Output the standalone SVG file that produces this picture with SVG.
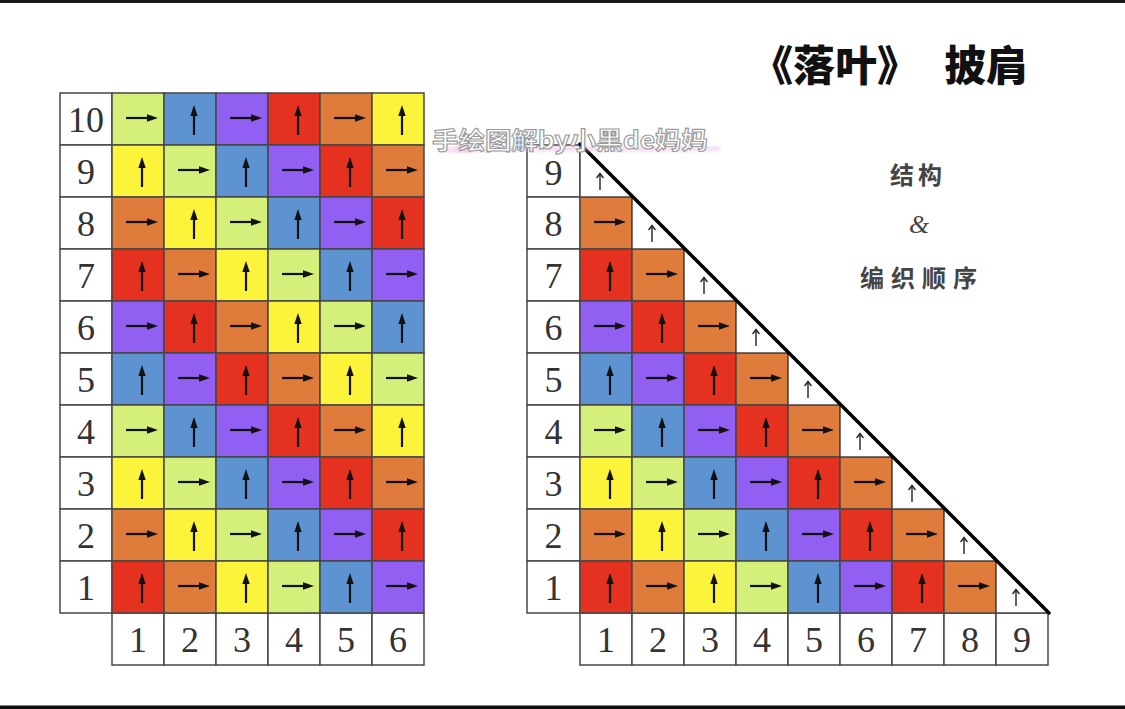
<svg xmlns="http://www.w3.org/2000/svg" xmlns:xlink="http://www.w3.org/1999/xlink" width="1125" height="709" viewBox="0 0 1125 709">
<style>
.cell{stroke:#474747;stroke-width:1.5}
.w{fill:#ffffff}
.r{fill:#e5311f}
.o{fill:#df7c3b}
.y{fill:#fbf43a}
.g{fill:#d4f07b}
.b{fill:#5d93d1}
.p{fill:#915ff1}
.num{font-family:"Liberation Serif","Times New Roman",serif;font-size:36px;fill:#333;text-anchor:middle}
.tri{fill:#ffffff}
.triEdge{fill:none;stroke:#474747;stroke-width:1.5}
.cap{font-family:"Noto Sans CJK SC","Noto Sans CJK TC",sans-serif;fill:#444}
</style>
<defs>
<g id="up">
<line x1="30" y1="42" x2="30" y2="21" stroke="#111" stroke-width="2.2"/>
<polygon points="30,12 26.3,23 33.7,23" fill="#111"/>
</g>
<g id="rt">
<line x1="14" y1="25" x2="37" y2="25" stroke="#111" stroke-width="2.2"/>
<polygon points="46,25 35,21.3 35,28.7" fill="#111"/>
</g>
<g id="sup">
<line x1="20" y1="45" x2="20" y2="29" stroke="#222" stroke-width="1.4"/>
<path d="M16.6,33 L20,28.5 L23.4,33" fill="none" stroke="#222" stroke-width="1.4"/>
</g>
<filter id="soft" x="-10%" y="-50%" width="120%" height="200%">
<feGaussianBlur stdDeviation="2"/>
</filter>
</defs>
<rect width="1125" height="709" fill="#ffffff"/>
<rect x="0" y="0" width="1125" height="3" fill="#1a1a1a"/>
<rect x="0" y="705.5" width="1125" height="3.5" fill="#111"/>

<!-- LEFT GRID -->
<g id="left-grid">
<g id="L-rowlabels">
<rect class="cell w" x="60" y="93" width="52" height="52"/><text class="num" x="86" y="132">10</text>
<rect class="cell w" x="60" y="145" width="52" height="52"/><text class="num" x="86" y="184">9</text>
<rect class="cell w" x="60" y="197" width="52" height="52"/><text class="num" x="86" y="236">8</text>
<rect class="cell w" x="60" y="249" width="52" height="52"/><text class="num" x="86" y="288">7</text>
<rect class="cell w" x="60" y="301" width="52" height="52"/><text class="num" x="86" y="340">6</text>
<rect class="cell w" x="60" y="353" width="52" height="52"/><text class="num" x="86" y="392">5</text>
<rect class="cell w" x="60" y="405" width="52" height="52"/><text class="num" x="86" y="444">4</text>
<rect class="cell w" x="60" y="457" width="52" height="52"/><text class="num" x="86" y="496">3</text>
<rect class="cell w" x="60" y="509" width="52" height="52"/><text class="num" x="86" y="548">2</text>
<rect class="cell w" x="60" y="561" width="52" height="52"/><text class="num" x="86" y="600">1</text>
</g>
<g id="L-collabels">
<rect class="cell w" x="112" y="613" width="52" height="52"/><text class="num" x="138" y="652">1</text>
<rect class="cell w" x="164" y="613" width="52" height="52"/><text class="num" x="190" y="652">2</text>
<rect class="cell w" x="216" y="613" width="52" height="52"/><text class="num" x="242" y="652">3</text>
<rect class="cell w" x="268" y="613" width="52" height="52"/><text class="num" x="294" y="652">4</text>
<rect class="cell w" x="320" y="613" width="52" height="52"/><text class="num" x="346" y="652">5</text>
<rect class="cell w" x="372" y="613" width="52" height="52"/><text class="num" x="398" y="652">6</text>
</g>
<!-- row 10 -->
<g id="L-10-1"><rect class="cell g" x="112" y="93" width="52" height="52"/><use xlink:href="#rt" x="112" y="93"/></g>
<g id="L-10-2"><rect class="cell b" x="164" y="93" width="52" height="52"/><use xlink:href="#up" x="164" y="93"/></g>
<g id="L-10-3"><rect class="cell p" x="216" y="93" width="52" height="52"/><use xlink:href="#rt" x="216" y="93"/></g>
<g id="L-10-4"><rect class="cell r" x="268" y="93" width="52" height="52"/><use xlink:href="#up" x="268" y="93"/></g>
<g id="L-10-5"><rect class="cell o" x="320" y="93" width="52" height="52"/><use xlink:href="#rt" x="320" y="93"/></g>
<g id="L-10-6"><rect class="cell y" x="372" y="93" width="52" height="52"/><use xlink:href="#up" x="372" y="93"/></g>
<!-- row 9 -->
<g id="L-9-1"><rect class="cell y" x="112" y="145" width="52" height="52"/><use xlink:href="#up" x="112" y="145"/></g>
<g id="L-9-2"><rect class="cell g" x="164" y="145" width="52" height="52"/><use xlink:href="#rt" x="164" y="145"/></g>
<g id="L-9-3"><rect class="cell b" x="216" y="145" width="52" height="52"/><use xlink:href="#up" x="216" y="145"/></g>
<g id="L-9-4"><rect class="cell p" x="268" y="145" width="52" height="52"/><use xlink:href="#rt" x="268" y="145"/></g>
<g id="L-9-5"><rect class="cell r" x="320" y="145" width="52" height="52"/><use xlink:href="#up" x="320" y="145"/></g>
<g id="L-9-6"><rect class="cell o" x="372" y="145" width="52" height="52"/><use xlink:href="#rt" x="372" y="145"/></g>
<!-- row 8 -->
<g id="L-8-1"><rect class="cell o" x="112" y="197" width="52" height="52"/><use xlink:href="#rt" x="112" y="197"/></g>
<g id="L-8-2"><rect class="cell y" x="164" y="197" width="52" height="52"/><use xlink:href="#up" x="164" y="197"/></g>
<g id="L-8-3"><rect class="cell g" x="216" y="197" width="52" height="52"/><use xlink:href="#rt" x="216" y="197"/></g>
<g id="L-8-4"><rect class="cell b" x="268" y="197" width="52" height="52"/><use xlink:href="#up" x="268" y="197"/></g>
<g id="L-8-5"><rect class="cell p" x="320" y="197" width="52" height="52"/><use xlink:href="#rt" x="320" y="197"/></g>
<g id="L-8-6"><rect class="cell r" x="372" y="197" width="52" height="52"/><use xlink:href="#up" x="372" y="197"/></g>
<!-- row 7 -->
<g id="L-7-1"><rect class="cell r" x="112" y="249" width="52" height="52"/><use xlink:href="#up" x="112" y="249"/></g>
<g id="L-7-2"><rect class="cell o" x="164" y="249" width="52" height="52"/><use xlink:href="#rt" x="164" y="249"/></g>
<g id="L-7-3"><rect class="cell y" x="216" y="249" width="52" height="52"/><use xlink:href="#up" x="216" y="249"/></g>
<g id="L-7-4"><rect class="cell g" x="268" y="249" width="52" height="52"/><use xlink:href="#rt" x="268" y="249"/></g>
<g id="L-7-5"><rect class="cell b" x="320" y="249" width="52" height="52"/><use xlink:href="#up" x="320" y="249"/></g>
<g id="L-7-6"><rect class="cell p" x="372" y="249" width="52" height="52"/><use xlink:href="#rt" x="372" y="249"/></g>
<!-- row 6 -->
<g id="L-6-1"><rect class="cell p" x="112" y="301" width="52" height="52"/><use xlink:href="#rt" x="112" y="301"/></g>
<g id="L-6-2"><rect class="cell r" x="164" y="301" width="52" height="52"/><use xlink:href="#up" x="164" y="301"/></g>
<g id="L-6-3"><rect class="cell o" x="216" y="301" width="52" height="52"/><use xlink:href="#rt" x="216" y="301"/></g>
<g id="L-6-4"><rect class="cell y" x="268" y="301" width="52" height="52"/><use xlink:href="#up" x="268" y="301"/></g>
<g id="L-6-5"><rect class="cell g" x="320" y="301" width="52" height="52"/><use xlink:href="#rt" x="320" y="301"/></g>
<g id="L-6-6"><rect class="cell b" x="372" y="301" width="52" height="52"/><use xlink:href="#up" x="372" y="301"/></g>
<!-- row 5 -->
<g id="L-5-1"><rect class="cell b" x="112" y="353" width="52" height="52"/><use xlink:href="#up" x="112" y="353"/></g>
<g id="L-5-2"><rect class="cell p" x="164" y="353" width="52" height="52"/><use xlink:href="#rt" x="164" y="353"/></g>
<g id="L-5-3"><rect class="cell r" x="216" y="353" width="52" height="52"/><use xlink:href="#up" x="216" y="353"/></g>
<g id="L-5-4"><rect class="cell o" x="268" y="353" width="52" height="52"/><use xlink:href="#rt" x="268" y="353"/></g>
<g id="L-5-5"><rect class="cell y" x="320" y="353" width="52" height="52"/><use xlink:href="#up" x="320" y="353"/></g>
<g id="L-5-6"><rect class="cell g" x="372" y="353" width="52" height="52"/><use xlink:href="#rt" x="372" y="353"/></g>
<!-- row 4 -->
<g id="L-4-1"><rect class="cell g" x="112" y="405" width="52" height="52"/><use xlink:href="#rt" x="112" y="405"/></g>
<g id="L-4-2"><rect class="cell b" x="164" y="405" width="52" height="52"/><use xlink:href="#up" x="164" y="405"/></g>
<g id="L-4-3"><rect class="cell p" x="216" y="405" width="52" height="52"/><use xlink:href="#rt" x="216" y="405"/></g>
<g id="L-4-4"><rect class="cell r" x="268" y="405" width="52" height="52"/><use xlink:href="#up" x="268" y="405"/></g>
<g id="L-4-5"><rect class="cell o" x="320" y="405" width="52" height="52"/><use xlink:href="#rt" x="320" y="405"/></g>
<g id="L-4-6"><rect class="cell y" x="372" y="405" width="52" height="52"/><use xlink:href="#up" x="372" y="405"/></g>
<!-- row 3 -->
<g id="L-3-1"><rect class="cell y" x="112" y="457" width="52" height="52"/><use xlink:href="#up" x="112" y="457"/></g>
<g id="L-3-2"><rect class="cell g" x="164" y="457" width="52" height="52"/><use xlink:href="#rt" x="164" y="457"/></g>
<g id="L-3-3"><rect class="cell b" x="216" y="457" width="52" height="52"/><use xlink:href="#up" x="216" y="457"/></g>
<g id="L-3-4"><rect class="cell p" x="268" y="457" width="52" height="52"/><use xlink:href="#rt" x="268" y="457"/></g>
<g id="L-3-5"><rect class="cell r" x="320" y="457" width="52" height="52"/><use xlink:href="#up" x="320" y="457"/></g>
<g id="L-3-6"><rect class="cell o" x="372" y="457" width="52" height="52"/><use xlink:href="#rt" x="372" y="457"/></g>
<!-- row 2 -->
<g id="L-2-1"><rect class="cell o" x="112" y="509" width="52" height="52"/><use xlink:href="#rt" x="112" y="509"/></g>
<g id="L-2-2"><rect class="cell y" x="164" y="509" width="52" height="52"/><use xlink:href="#up" x="164" y="509"/></g>
<g id="L-2-3"><rect class="cell g" x="216" y="509" width="52" height="52"/><use xlink:href="#rt" x="216" y="509"/></g>
<g id="L-2-4"><rect class="cell b" x="268" y="509" width="52" height="52"/><use xlink:href="#up" x="268" y="509"/></g>
<g id="L-2-5"><rect class="cell p" x="320" y="509" width="52" height="52"/><use xlink:href="#rt" x="320" y="509"/></g>
<g id="L-2-6"><rect class="cell r" x="372" y="509" width="52" height="52"/><use xlink:href="#up" x="372" y="509"/></g>
<!-- row 1 -->
<g id="L-1-1"><rect class="cell r" x="112" y="561" width="52" height="52"/><use xlink:href="#up" x="112" y="561"/></g>
<g id="L-1-2"><rect class="cell o" x="164" y="561" width="52" height="52"/><use xlink:href="#rt" x="164" y="561"/></g>
<g id="L-1-3"><rect class="cell y" x="216" y="561" width="52" height="52"/><use xlink:href="#up" x="216" y="561"/></g>
<g id="L-1-4"><rect class="cell g" x="268" y="561" width="52" height="52"/><use xlink:href="#rt" x="268" y="561"/></g>
<g id="L-1-5"><rect class="cell b" x="320" y="561" width="52" height="52"/><use xlink:href="#up" x="320" y="561"/></g>
<g id="L-1-6"><rect class="cell p" x="372" y="561" width="52" height="52"/><use xlink:href="#rt" x="372" y="561"/></g>
</g>

<!-- RIGHT GRID -->
<g id="right-grid">
<g id="R-rowlabels">
<rect class="cell w" x="527" y="145" width="53" height="52"/><text class="num" x="553.5" y="185">9</text>
<rect class="cell w" x="527" y="197" width="53" height="52"/><text class="num" x="553.5" y="236">8</text>
<rect class="cell w" x="527" y="249" width="53" height="52"/><text class="num" x="553.5" y="288">7</text>
<rect class="cell w" x="527" y="301" width="53" height="52"/><text class="num" x="553.5" y="340">6</text>
<rect class="cell w" x="527" y="353" width="53" height="52"/><text class="num" x="553.5" y="392">5</text>
<rect class="cell w" x="527" y="405" width="53" height="52"/><text class="num" x="553.5" y="444">4</text>
<rect class="cell w" x="527" y="457" width="53" height="52"/><text class="num" x="553.5" y="496">3</text>
<rect class="cell w" x="527" y="509" width="53" height="52"/><text class="num" x="553.5" y="548">2</text>
<rect class="cell w" x="527" y="561" width="53" height="52"/><text class="num" x="553.5" y="600">1</text>
</g>
<g id="R-collabels">
<rect class="cell w" x="580" y="613" width="52" height="52"/><text class="num" x="606" y="652">1</text>
<rect class="cell w" x="632" y="613" width="52" height="52"/><text class="num" x="658" y="652">2</text>
<rect class="cell w" x="684" y="613" width="52" height="52"/><text class="num" x="710" y="652">3</text>
<rect class="cell w" x="736" y="613" width="52" height="52"/><text class="num" x="762" y="652">4</text>
<rect class="cell w" x="788" y="613" width="52" height="52"/><text class="num" x="814" y="652">5</text>
<rect class="cell w" x="840" y="613" width="52" height="52"/><text class="num" x="866" y="652">6</text>
<rect class="cell w" x="892" y="613" width="52" height="52"/><text class="num" x="918" y="652">7</text>
<rect class="cell w" x="944" y="613" width="52" height="52"/><text class="num" x="970" y="652">8</text>
<rect class="cell w" x="996" y="613" width="52" height="52"/><text class="num" x="1022" y="652">9</text>
</g>
<!-- row 8 -->
<g id="R-8-1"><rect class="cell o" x="580" y="197" width="52" height="52"/><use xlink:href="#rt" x="580" y="197"/></g>
<!-- row 7 -->
<g id="R-7-1"><rect class="cell r" x="580" y="249" width="52" height="52"/><use xlink:href="#up" x="580" y="249"/></g>
<g id="R-7-2"><rect class="cell o" x="632" y="249" width="52" height="52"/><use xlink:href="#rt" x="632" y="249"/></g>
<!-- row 6 -->
<g id="R-6-1"><rect class="cell p" x="580" y="301" width="52" height="52"/><use xlink:href="#rt" x="580" y="301"/></g>
<g id="R-6-2"><rect class="cell r" x="632" y="301" width="52" height="52"/><use xlink:href="#up" x="632" y="301"/></g>
<g id="R-6-3"><rect class="cell o" x="684" y="301" width="52" height="52"/><use xlink:href="#rt" x="684" y="301"/></g>
<!-- row 5 -->
<g id="R-5-1"><rect class="cell b" x="580" y="353" width="52" height="52"/><use xlink:href="#up" x="580" y="353"/></g>
<g id="R-5-2"><rect class="cell p" x="632" y="353" width="52" height="52"/><use xlink:href="#rt" x="632" y="353"/></g>
<g id="R-5-3"><rect class="cell r" x="684" y="353" width="52" height="52"/><use xlink:href="#up" x="684" y="353"/></g>
<g id="R-5-4"><rect class="cell o" x="736" y="353" width="52" height="52"/><use xlink:href="#rt" x="736" y="353"/></g>
<!-- row 4 -->
<g id="R-4-1"><rect class="cell g" x="580" y="405" width="52" height="52"/><use xlink:href="#rt" x="580" y="405"/></g>
<g id="R-4-2"><rect class="cell b" x="632" y="405" width="52" height="52"/><use xlink:href="#up" x="632" y="405"/></g>
<g id="R-4-3"><rect class="cell p" x="684" y="405" width="52" height="52"/><use xlink:href="#rt" x="684" y="405"/></g>
<g id="R-4-4"><rect class="cell r" x="736" y="405" width="52" height="52"/><use xlink:href="#up" x="736" y="405"/></g>
<g id="R-4-5"><rect class="cell o" x="788" y="405" width="52" height="52"/><use xlink:href="#rt" x="788" y="405"/></g>
<!-- row 3 -->
<g id="R-3-1"><rect class="cell y" x="580" y="457" width="52" height="52"/><use xlink:href="#up" x="580" y="457"/></g>
<g id="R-3-2"><rect class="cell g" x="632" y="457" width="52" height="52"/><use xlink:href="#rt" x="632" y="457"/></g>
<g id="R-3-3"><rect class="cell b" x="684" y="457" width="52" height="52"/><use xlink:href="#up" x="684" y="457"/></g>
<g id="R-3-4"><rect class="cell p" x="736" y="457" width="52" height="52"/><use xlink:href="#rt" x="736" y="457"/></g>
<g id="R-3-5"><rect class="cell r" x="788" y="457" width="52" height="52"/><use xlink:href="#up" x="788" y="457"/></g>
<g id="R-3-6"><rect class="cell o" x="840" y="457" width="52" height="52"/><use xlink:href="#rt" x="840" y="457"/></g>
<!-- row 2 -->
<g id="R-2-1"><rect class="cell o" x="580" y="509" width="52" height="52"/><use xlink:href="#rt" x="580" y="509"/></g>
<g id="R-2-2"><rect class="cell y" x="632" y="509" width="52" height="52"/><use xlink:href="#up" x="632" y="509"/></g>
<g id="R-2-3"><rect class="cell g" x="684" y="509" width="52" height="52"/><use xlink:href="#rt" x="684" y="509"/></g>
<g id="R-2-4"><rect class="cell b" x="736" y="509" width="52" height="52"/><use xlink:href="#up" x="736" y="509"/></g>
<g id="R-2-5"><rect class="cell p" x="788" y="509" width="52" height="52"/><use xlink:href="#rt" x="788" y="509"/></g>
<g id="R-2-6"><rect class="cell r" x="840" y="509" width="52" height="52"/><use xlink:href="#up" x="840" y="509"/></g>
<g id="R-2-7"><rect class="cell o" x="892" y="509" width="52" height="52"/><use xlink:href="#rt" x="892" y="509"/></g>
<!-- row 1 -->
<g id="R-1-1"><rect class="cell r" x="580" y="561" width="52" height="52"/><use xlink:href="#up" x="580" y="561"/></g>
<g id="R-1-2"><rect class="cell o" x="632" y="561" width="52" height="52"/><use xlink:href="#rt" x="632" y="561"/></g>
<g id="R-1-3"><rect class="cell y" x="684" y="561" width="52" height="52"/><use xlink:href="#up" x="684" y="561"/></g>
<g id="R-1-4"><rect class="cell g" x="736" y="561" width="52" height="52"/><use xlink:href="#rt" x="736" y="561"/></g>
<g id="R-1-5"><rect class="cell b" x="788" y="561" width="52" height="52"/><use xlink:href="#up" x="788" y="561"/></g>
<g id="R-1-6"><rect class="cell p" x="840" y="561" width="52" height="52"/><use xlink:href="#rt" x="840" y="561"/></g>
<g id="R-1-7"><rect class="cell r" x="892" y="561" width="52" height="52"/><use xlink:href="#up" x="892" y="561"/></g>
<g id="R-1-8"><rect class="cell o" x="944" y="561" width="52" height="52"/><use xlink:href="#rt" x="944" y="561"/></g>
<!-- diagonal white half-cells -->
<g id="R-9-1"><polygon class="tri" points="580,145 580,197 632,197"/><path class="triEdge" d="M580,145 V197 H632"/><use xlink:href="#sup" x="580" y="145"/></g>
<g id="R-8-2"><polygon class="tri" points="632,197 632,249 684,249"/><path class="triEdge" d="M632,197 V249 H684"/><use xlink:href="#sup" x="632" y="197"/></g>
<g id="R-7-3"><polygon class="tri" points="684,249 684,301 736,301"/><path class="triEdge" d="M684,249 V301 H736"/><use xlink:href="#sup" x="684" y="249"/></g>
<g id="R-6-4"><polygon class="tri" points="736,301 736,353 788,353"/><path class="triEdge" d="M736,301 V353 H788"/><use xlink:href="#sup" x="736" y="301"/></g>
<g id="R-5-5"><polygon class="tri" points="788,353 788,405 840,405"/><path class="triEdge" d="M788,353 V405 H840"/><use xlink:href="#sup" x="788" y="353"/></g>
<g id="R-4-6"><polygon class="tri" points="840,405 840,457 892,457"/><path class="triEdge" d="M840,405 V457 H892"/><use xlink:href="#sup" x="840" y="405"/></g>
<g id="R-3-7"><polygon class="tri" points="892,457 892,509 944,509"/><path class="triEdge" d="M892,457 V509 H944"/><use xlink:href="#sup" x="892" y="457"/></g>
<g id="R-2-8"><polygon class="tri" points="944,509 944,561 996,561"/><path class="triEdge" d="M944,509 V561 H996"/><use xlink:href="#sup" x="944" y="509"/></g>
<g id="R-1-9"><polygon class="tri" points="996,561 996,613 1048,613"/><path class="triEdge" d="M996,561 V613 H1048"/><use xlink:href="#sup" x="996" y="561"/></g>
</g>

<g id="connectors">
<line id="diagonal" x1="580" y1="144" x2="1049" y2="613" stroke="#000" stroke-width="3.5" stroke-linecap="round"/>
</g>

<!-- watermark -->
<g id="watermark">
<path d="M440,151 C520,145 600,151 720,148" fill="none" stroke="#e7b3e6" stroke-width="5" opacity="0.55" filter="url(#soft)"/>
<ellipse cx="464" cy="148" rx="8" ry="4" fill="#e59fd9" opacity="0.5" filter="url(#soft)"/>
<text x="432" y="149" textLength="276" lengthAdjust="spacingAndGlyphs" font-family="Noto Sans CJK SC, Noto Sans CJK JP, sans-serif" font-weight="700" font-size="24" fill="#ffffff" stroke="#9a9a9a" stroke-width="1.1">手绘图解by小黑de妈妈</text>
</g>

<!-- titles -->
<g id="title">
<text x="751" y="81" font-family="Noto Sans CJK SC, Noto Sans CJK TC, sans-serif" font-weight="900" font-size="42" fill="#111">《落叶》</text>
<text x="944" y="81" font-family="Noto Sans CJK SC, Noto Sans CJK TC, sans-serif" font-weight="900" font-size="42" fill="#111">披肩</text>
</g>
<g id="subtitle">
<text class="cap" x="890" y="184" font-size="24" font-weight="700" letter-spacing="4">结构</text>
<text x="919" y="233" font-family="Liberation Serif, serif" font-style="italic" font-size="26" fill="#444" text-anchor="middle">&amp;</text>
<text class="cap" x="860" y="287" font-size="24" font-weight="700" letter-spacing="7">编织顺序</text>
</g>
</svg>
